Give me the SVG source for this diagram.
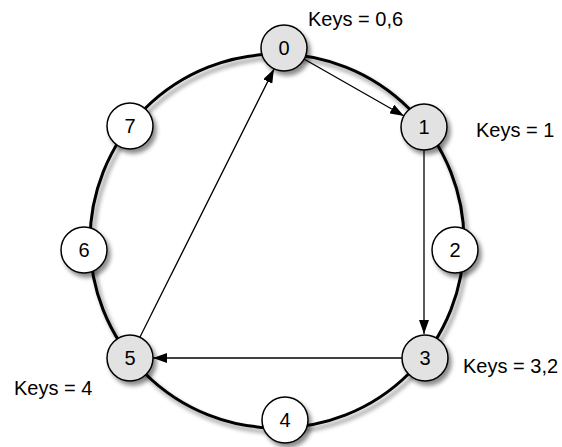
<svg xmlns="http://www.w3.org/2000/svg" width="562" height="447" viewBox="0 0 562 447">
  <defs>
    <filter id="shadow" x="-20%" y="-20%" width="150%" height="150%">
      <feDropShadow dx="3" dy="4" stdDeviation="2.2" flood-color="#000" flood-opacity="0.45"/>
    </filter>
    <marker id="arrow" markerUnits="userSpaceOnUse" markerWidth="14" markerHeight="10" refX="14" refY="5" orient="auto">
      <path d="M0,0 L14,5 L0,10 z" fill="#000"/>
    </marker>
  </defs>
  <style>
    .ring { fill: none; stroke: #000; stroke-width: 3; }
    .edge { fill: none; stroke: #000; stroke-width: 1.3; marker-end: url(#arrow); }
    .node circle { stroke: #000; stroke-width: 1.5; }
    .active circle { fill: #e2e2e2; }
    .idle circle { fill: #fff; }
    text { font-family: "Liberation Sans", Arial, sans-serif; font-size: 20px; fill: #000; }
    .num { text-anchor: middle; }
  </style>
  <rect width="562" height="447" fill="#fff"/>

  <!-- identifier ring -->
  <circle class="ring" cx="277" cy="241" r="187" filter="url(#shadow)"/>

  <!-- finger-table hops -->
  <g id="connectors">
    <line class="edge" x1="304" y1="59" x2="404" y2="116"/>
    <line class="edge" x1="424" y1="150" x2="424" y2="334"/>
    <line class="edge" x1="402" y1="358" x2="153" y2="358"/>
    <line class="edge" x1="140" y1="337" x2="274" y2="69"/>
  </g>

  <!-- ring positions -->
  <g id="node0" class="node active"><circle cx="284" cy="48" r="23" filter="url(#shadow)"/><text class="num" x="284" y="55">0</text></g>
  <g id="node1" class="node active"><circle cx="424" cy="127" r="23" filter="url(#shadow)"/><text class="num" x="424" y="134">1</text></g>
  <g id="node2" class="node idle"><circle cx="455" cy="250" r="23" filter="url(#shadow)"/><text class="num" x="455" y="257">2</text></g>
  <g id="node3" class="node active"><circle cx="425" cy="358" r="23" filter="url(#shadow)"/><text class="num" x="425" y="365">3</text></g>
  <g id="node4" class="node idle"><circle cx="285" cy="420" r="23" filter="url(#shadow)"/><text class="num" x="285" y="427">4</text></g>
  <g id="node5" class="node active"><circle cx="130" cy="358" r="23" filter="url(#shadow)"/><text class="num" x="130" y="365">5</text></g>
  <g id="node6" class="node idle"><circle cx="84" cy="250" r="23" filter="url(#shadow)"/><text class="num" x="84" y="257">6</text></g>
  <g id="node7" class="node idle"><circle cx="130" cy="126" r="23" filter="url(#shadow)"/><text class="num" x="130" y="133">7</text></g>

  <!-- stored keys -->
  <g id="labels">
    <text x="308" y="26">Keys = 0,6</text>
    <text x="476" y="137">Keys = 1</text>
    <text x="463" y="373">Keys = 3,2</text>
    <text x="14" y="395">Keys = 4</text>
  </g>
</svg>
